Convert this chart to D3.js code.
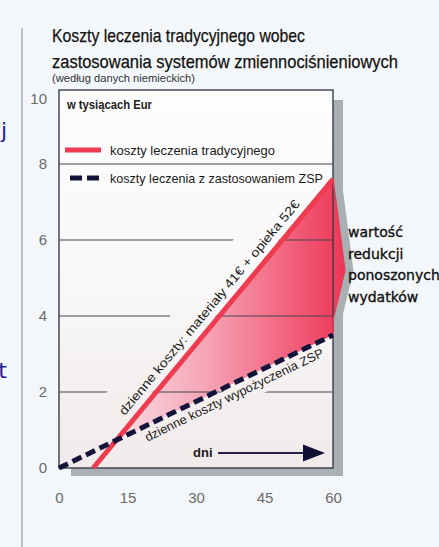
<!DOCTYPE html>
<html>
<head>
<meta charset="utf-8">
<script src="https://cdn.jsdelivr.net/npm/d3@7"></script>
<style>
  body { margin: 0; background: #f4f7f9; }
  svg { display: block; }
</style>
</head>
<body>
<svg width="439" height="547"></svg>
<script>
"use strict";

// dane
const dayTicks = [0, 15, 30, 45, 60];
const costTicks = [0, 2, 4, 6, 8, 10];
const gridValues = [2, 4, 6, 8];
const tradDays = [7.5, 60];
const tradCost = [0, 7.6];
const zspDays = [0, 60];
const zspCost = [0, 3.5];
// prawa krawedz pola "wartosc redukcji" (klamra)
const braceDays = [60, 62.6, 60, 60];
const braceCost = [7.6, 5.2, 3.9, 3.5];

const titleLines = ["Koszty leczenia tradycyjnego wobec", "zastosowania systemów zmiennociśnieniowych"];
const subtitle = "(według danych niemieckich)";
const unitLabel = "w tysiącach Eur";
const legendLabels = ["koszty leczenia tradycyjnego", "koszty leczenia z zastosowaniem ZSP"];
const tradNote = "dzienne koszty: materiały 41€ + opieka 52€";
const zspNote = "dzienne koszty wypożyczenia ZSP";
const braceLabel = ["wartość", "redukcji", "ponoszonych", "wydatków"];

const RED = "#ef3b4f";
const NAVY = "#14143a";
const GREY = "#a9b0b4";
const narrow = "'Liberation Sans Narrow', 'Liberation Sans', Arial, sans-serif";

const svg = d3.select("svg");

const x = d3.scaleLinear().domain([0, 60]).range([59, 333]);
const y = d3.scaleLinear().domain([0, 10]).range([468, 88]);

const fL = x(0), fR = x(60), fT = y(10) + 2, fB = y(0);

const line = d3.line().x(d => x(d.day)).y(d => y(d.cost));
const trad = tradDays.map((d, i) => ({ day: d, cost: tradCost[i] }));
const zsp = zspDays.map((d, i) => ({ day: d, cost: zspCost[i] }));
const brace = braceDays.map((d, i) => ({ day: d, cost: braceCost[i] }));

// przeciecie obu prostych
const m1 = (tradCost[1] - tradCost[0]) / (tradDays[1] - tradDays[0]);
const c1 = tradCost[0] - m1 * tradDays[0];
const m2 = (zspCost[1] - zspCost[0]) / (zspDays[1] - zspDays[0]);
const c2 = zspCost[0] - m2 * zspDays[0];
const xi = (c2 - c1) / (m1 - m2);
const cross = { day: xi, cost: m1 * xi + c1 };

// gradienty
const defs = svg.append("defs");
const frameGrad = defs.append("linearGradient").attr("id", "frameGrad")
  .attr("gradientUnits", "userSpaceOnUse")
  .attr("x1", 0).attr("y1", fT).attr("x2", 0).attr("y2", fB);
frameGrad.append("stop").attr("offset", 0).attr("stop-color", "#fdfdfd");
frameGrad.append("stop").attr("offset", 0.5).attr("stop-color", "#f9f8f8");
frameGrad.append("stop").attr("offset", 1).attr("stop-color", "#f1eaea");

const redGrad = defs.append("linearGradient").attr("id", "redGrad")
  .attr("gradientUnits", "userSpaceOnUse")
  .attr("x1", x(xi)).attr("y1", 0).attr("x2", x(62.6)).attr("y2", 0);
redGrad.append("stop").attr("offset", 0).attr("stop-color", "#f8dde3");
redGrad.append("stop").attr("offset", 0.4).attr("stop-color", "#f6a3b5");
redGrad.append("stop").attr("offset", 1).attr("stop-color", "#ee3556");

defs.append("clipPath").attr("id", "frameClip")
  .append("rect").attr("x", fL).attr("y", fT)
  .attr("width", fR - fL).attr("height", fB - fT);

// tlo slajdu
svg.append("rect").attr("width", 439).attr("height", 547).attr("fill", "#f4f7f9");
svg.append("line").attr("x1", 22).attr("x2", 22).attr("y1", 28).attr("y2", 547)
  .attr("stroke", "#b2b7ba").attr("stroke-width", 1.6);

// uciete litery z lewej strony slajdu
svg.append("text").attr("x", 7).attr("y", 138).attr("text-anchor", "end")
  .attr("font-family", "'DejaVu Sans', Verdana, sans-serif").attr("font-size", 22)
  .attr("fill", "#1e1e96").text("j");
svg.append("text").attr("x", 7).attr("y", 378).attr("text-anchor", "end")
  .attr("font-family", "'DejaVu Sans', Verdana, sans-serif").attr("font-size", 22)
  .attr("fill", "#1e1e96").text("t");

// tytul
svg.append("text").attr("x", 52).attr("y", 42)
  .attr("font-family", narrow).attr("font-size", 19).attr("fill", "#111")
  .attr("stroke", "#111").attr("stroke-width", 0.25)
  .attr("textLength", 253).attr("lengthAdjust", "spacingAndGlyphs")
  .text(titleLines[0]);
svg.append("text").attr("x", 52).attr("y", 68)
  .attr("font-family", narrow).attr("font-size", 19).attr("fill", "#111")
  .attr("stroke", "#111").attr("stroke-width", 0.25)
  .attr("textLength", 346).attr("lengthAdjust", "spacingAndGlyphs")
  .text(titleLines[1]);
svg.append("text").attr("x", 52).attr("y", 82)
  .attr("font-family", narrow).attr("font-size", 10).attr("fill", "#333")
  .attr("textLength", 143).attr("lengthAdjust", "spacingAndGlyphs")
  .text(subtitle);

// cien ramki (prawy i dolny pas)
svg.append("rect").attr("x", fR).attr("y", fT + 10)
  .attr("width", 10).attr("height", fB + 8 - fT - 10).attr("fill", GREY);
svg.append("rect").attr("x", fL + 12).attr("y", fB)
  .attr("width", fR + 10 - fL - 12).attr("height", 8).attr("fill", GREY);
svg.append("path")
  .attr("d", d3.line().x(d => x(d.day) + 4).y(d => y(d.cost))(brace.slice(0, 3)))
  .attr("fill", "none").attr("stroke", GREY).attr("stroke-width", 9)
  .attr("stroke-linejoin", "round");

// wnetrze ramki
svg.append("rect").attr("x", fL).attr("y", fT)
  .attr("width", fR - fL).attr("height", fB - fT)
  .attr("fill", "url(#frameGrad)");

// pole oszczednosci miedzy liniami
const area = [cross, trad[1], brace[1], brace[2], brace[3], cross];
svg.append("path").attr("d", line(area) + "Z").attr("fill", "url(#redGrad)");

// linie siatki
svg.append("g").selectAll("line").data(gridValues).join("line")
  .attr("x1", fL).attr("x2", fR)
  .attr("y1", d => y(d)).attr("y2", d => y(d))
  .attr("stroke", "#45454d").attr("stroke-width", 1);

// pomocnicze: polozenie wzdluz odcinka
function along(p0, p1, dist, off) {
  const dx = p1[0] - p0[0], dy = p1[1] - p0[1];
  const len = Math.hypot(dx, dy);
  const ux = dx / len, uy = dy / len;
  return [p0[0] + ux * dist + uy * off, p0[1] + uy * dist - ux * off];
}
function angleOf(p0, p1) {
  return Math.atan2(p1[1] - p0[1], p1[0] - p0[0]) * 180 / Math.PI;
}

const tA = [x(trad[0].day), y(trad[0].cost)], tB = [x(trad[1].day), y(trad[1].cost)];
const zA = [x(zsp[0].day), y(zsp[0].cost)], zB = [x(zsp[1].day), y(zsp[1].cost)];

// jasne pasy pod opisami (przerywaja siatke)
const band = (a, b, d0, d1, o0, o1) => [
  along(a, b, d0, o0), along(a, b, d1, o0), along(a, b, d1, o1), along(a, b, d0, o1)
];
const bands = svg.append("g").attr("clip-path", "url(#frameClip)");
bands.append("polygon").attr("points", band(tA, tB, 40, 345, 3, 38).join(" "))
  .attr("fill", "url(#frameGrad)");
bands.append("polygon").attr("points", band(zA, zB, 60, 310, -3, -22).join(" "))
  .attr("fill", "url(#frameGrad)");

// ramka
svg.append("rect").attr("x", fL).attr("y", fT)
  .attr("width", fR - fL).attr("height", fB - fT)
  .attr("fill", "none").attr("stroke", "#3a3d46").attr("stroke-width", 1.4);
// klamra przykrywa ramke
svg.append("path").attr("d", line([trad[1], brace[1], brace[2], brace[3]]))
  .attr("fill", "none").attr("stroke", "#ee3a59").attr("stroke-width", 1.5);

// serie
svg.append("path").attr("d", line(trad))
  .attr("fill", "none").attr("stroke", RED).attr("stroke-width", 5);
svg.append("path").attr("d", line(zsp))
  .attr("fill", "none").attr("stroke", NAVY).attr("stroke-width", 5)
  .attr("stroke-dasharray", "10,5");

// opisy wzdluz linii
const p1 = along(tA, tB, 60, 9);
svg.append("text")
  .attr("transform", `translate(${p1[0]},${p1[1]}) rotate(${angleOf(tA, tB)})`)
  .attr("font-family", narrow).attr("font-size", 12.5).attr("fill", "#1b1b1b")
  .attr("textLength", 275).attr("lengthAdjust", "spacingAndGlyphs")
  .text(tradNote);
const p2 = along(zA, zB, 91, -15);
svg.append("text")
  .attr("transform", `translate(${p2[0]},${p2[1]}) rotate(${angleOf(zA, zB)})`)
  .attr("font-family", narrow).attr("font-size", 12.5).attr("fill", "#1b1b1b")
  .attr("textLength", 197).attr("lengthAdjust", "spacingAndGlyphs")
  .text(zspNote);

// legenda
svg.append("text").attr("x", 67).attr("y", 109)
  .attr("font-family", "'Liberation Sans', Arial, sans-serif").attr("font-weight", "bold")
  .attr("font-size", 13).attr("fill", "#1b1b1b")
  .attr("textLength", 85).attr("lengthAdjust", "spacingAndGlyphs")
  .text(unitLabel);
svg.append("line").attr("x1", 65).attr("x2", 101).attr("y1", 150).attr("y2", 150)
  .attr("stroke", RED).attr("stroke-width", 5);
svg.append("line").attr("x1", 70).attr("x2", 100).attr("y1", 178).attr("y2", 178)
  .attr("stroke", NAVY).attr("stroke-width", 5).attr("stroke-dasharray", "12,5");
svg.append("text").attr("x", 110).attr("y", 155)
  .attr("font-family", narrow).attr("font-size", 13).attr("fill", "#1b1b1b")
  .attr("textLength", 165).attr("lengthAdjust", "spacingAndGlyphs")
  .text(legendLabels[0]);
svg.append("text").attr("x", 110).attr("y", 183)
  .attr("font-family", narrow).attr("font-size", 13).attr("fill", "#1b1b1b")
  .attr("textLength", 213).attr("lengthAdjust", "spacingAndGlyphs")
  .text(legendLabels[1]);

// "dni" ze strzalka
svg.append("text").attr("x", 193).attr("y", 457)
  .attr("font-family", "'Liberation Sans', Arial, sans-serif").attr("font-weight", "bold")
  .attr("font-size", 13).attr("fill", "#1b1b1b").text("dni");
svg.append("line").attr("x1", 218).attr("x2", 306).attr("y1", 453).attr("y2", 453)
  .attr("stroke", "#22224a").attr("stroke-width", 2);
svg.append("path").attr("d", "M303,444.5L325,453L303,461.5Z").attr("fill", "#101035");

// opis klamry
svg.append("g").selectAll("text").data(braceLabel).join("text")
  .attr("x", 348).attr("y", (d, i) => 237 + i * 21.7)
  .attr("font-family", "'DejaVu Sans', Verdana, sans-serif").attr("font-size", 14)
  .attr("fill", "#111").attr("stroke", "#111").attr("stroke-width", 0.35)
  .text(d => d);

// osie
const yAxis = d3.axisLeft(y).tickValues(costTicks).tickSize(0).tickPadding(12);
const gy = svg.append("g").attr("transform", `translate(${fL},0)`).call(yAxis);
gy.select(".domain").remove();
gy.selectAll("text").attr("font-family", "'Liberation Sans', Arial, sans-serif")
  .attr("font-size", 15).attr("fill", "#6a6a6a");
gy.selectAll(".tick text").filter(d => d === 10).attr("dy", "1.05em");

const xAxis = d3.axisBottom(x).tickValues(dayTicks).tickSize(0).tickPadding(24);
const gx = svg.append("g").attr("transform", `translate(0,${fB})`).call(xAxis);
gx.select(".domain").remove();
gx.selectAll("text").attr("font-family", "'Liberation Sans', Arial, sans-serif")
  .attr("font-size", 15).attr("fill", "#6a6a6a");
</script>
</body>
</html>
